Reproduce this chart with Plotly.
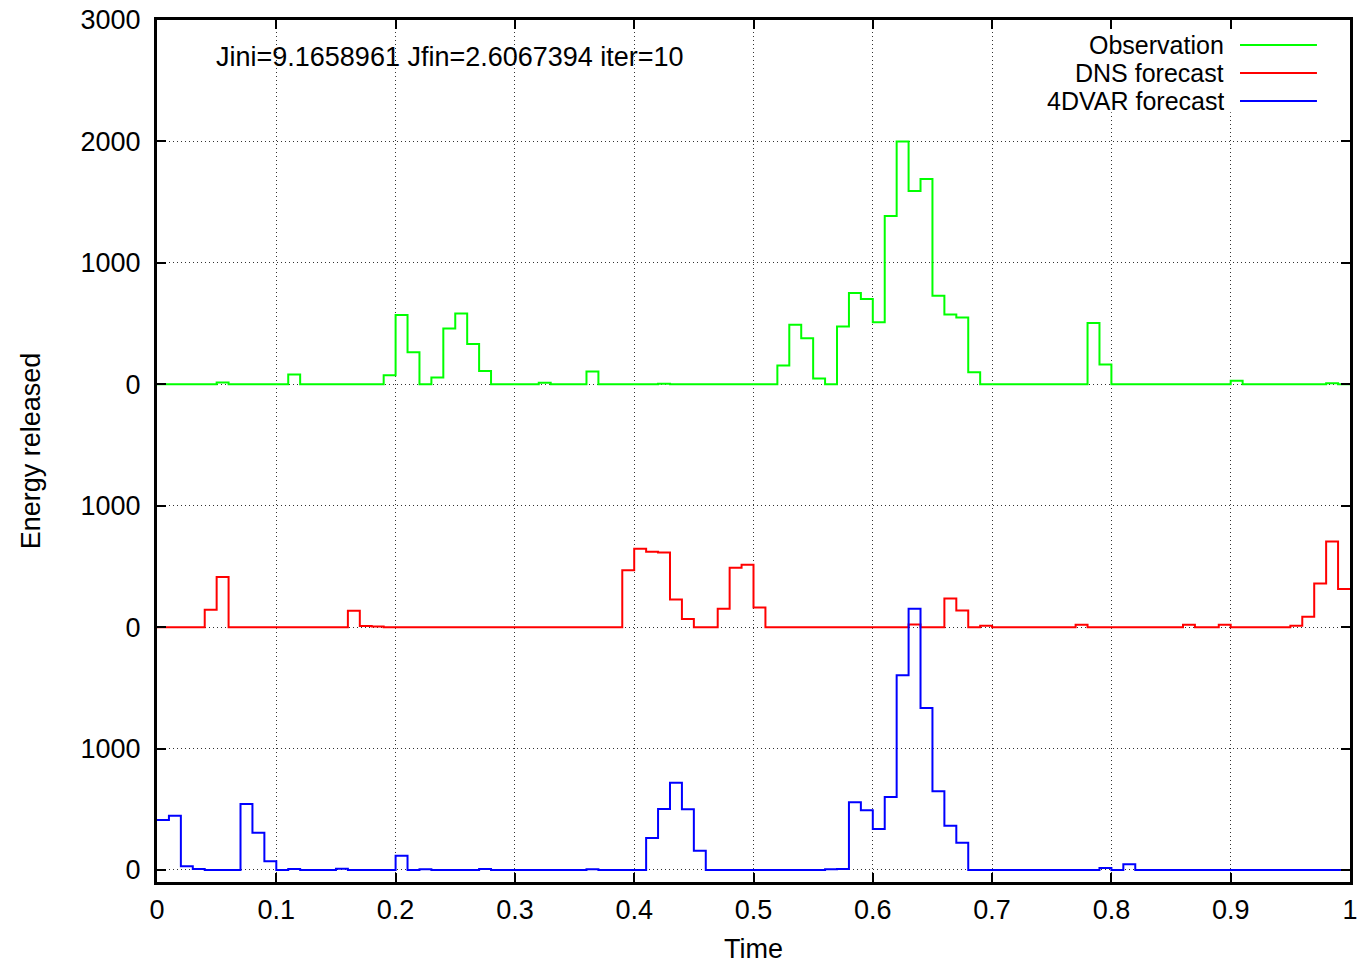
import plotly.graph_objects as go

# Energy released per time bin (bin width 0.01, bins start at 0.00 ... 0.99)
BIN_WIDTH = 0.01

observation = [
    0, 0, 0, 0, 0, 15, 0, 0, 0, 0,
    0, 80, 0, 0, 0, 0, 0, 0, 0, 75,
    571, 264, 0, 55, 459, 582, 332, 110, 0, 0,
    0, 0, 12, 0, 0, 0, 105, 0, 0, 0,
    0, 0, 5, 0, 0, 0, 0, 0, 0, 0,
    0, 0, 155, 490, 379, 47, 0, 475, 752, 703,
    511, 1386, 2000, 1592, 1691, 730, 574, 549, 99, 0,
    0, 0, 0, 0, 0, 0, 0, 0, 505, 162,
    0, 0, 0, 0, 0, 0, 0, 0, 0, 0,
    30, 0, 0, 0, 0, 0, 0, 0, 8, 0,
]

dns_forecast = [
    0, 0, 0, 0, 143, 412, 0, 0, 0, 0,
    0, 0, 0, 0, 0, 0, 134, 10, 6, 0,
    0, 0, 0, 0, 0, 0, 0, 0, 0, 0,
    0, 0, 0, 0, 0, 0, 0, 0, 0, 469,
    645, 620, 615, 228, 66, 0, 0, 151, 489, 513,
    162, 0, 0, 0, 0, 0, 0, 0, 0, 0,
    0, 0, 0, 22, 0, 0, 236, 137, 0, 11,
    0, 0, 0, 0, 0, 0, 0, 19, 0, 0,
    0, 0, 0, 0, 0, 0, 19, 0, 0, 19,
    0, 0, 0, 0, 0, 11, 85, 360, 705, 315,
]

fourdvar_forecast = [
    411, 447, 30, 8, 0, 0, 0, 543, 307, 71,
    0, 8, 0, 0, 0, 10, 0, 0, 0, 0,
    118, 0, 5, 0, 0, 0, 0, 8, 0, 0,
    0, 0, 0, 0, 0, 0, 5, 0, 0, 0,
    0, 264, 502, 719, 500, 159, 0, 0, 0, 0,
    0, 0, 0, 0, 0, 0, 5, 8, 557, 491,
    338, 601, 1603, 2152, 1334, 648, 365, 225, 0, 0,
    0, 0, 0, 0, 0, 0, 0, 0, 0, 16,
    0, 47, 0, 0, 0, 0, 0, 0, 0, 0,
    0, 0, 0, 0, 0, 0, 0, 0, 0, 0,
]

series_names = ["Observation", "DNS forecast", "4DVAR forecast"]
series_colors = ["#00ff00", "#ff0000", "#0000ff"]
series_offsets = [4000, 2000, 0]

x_tick_vals = [0, 0.1, 0.2, 0.3, 0.4, 0.5, 0.6, 0.7, 0.8, 0.9, 1]
x_tick_text = ["0", "0.1", "0.2", "0.3", "0.4", "0.5", "0.6", "0.7", "0.8", "0.9", "1"]
y_tick_vals = [0, 1000, 2000, 3000, 4000, 5000, 6000, 7000]
y_tick_text = ["0", "1000", "0", "1000", "0", "1000", "2000", "3000"]

title_text = "Jini=9.1658961 Jfin=2.6067394 iter=10"

FONT = "Liberation Sans, Arial, Helvetica, sans-serif"
FS = 27
KEY_FS = 25

fig = go.Figure()

for name, values, color, offset in zip(
    series_names, [observation, dns_forecast, fourdvar_forecast], series_colors, series_offsets
):
    n = len(values)
    edges = [i * BIN_WIDTH for i in range(n + 1)]
    ys = [v + offset for v in values] + [values[-1] + offset]
    fig.add_trace(
        go.Scatter(
            x=edges,
            y=ys,
            mode="lines",
            line=dict(color=color, width=2, shape="hv"),
            name=name,
            showlegend=False,
            hoverinfo="skip",
        )
    )

axis_common = dict(
    automargin=False,
    showline=True,
    linecolor="black",
    linewidth=3,
    mirror="ticks",
    ticks="inside",
    ticklen=9,
    tickwidth=2,
    tickcolor="black",
    showgrid=True,
    gridcolor="#333333",
    gridwidth=1,
    griddash="1px,3px",
    zeroline=False,
    tickfont=dict(family=FONT, size=FS, color="black"),
)

fig.update_xaxes(
    range=[0, 1],
    tickmode="array",
    tickvals=x_tick_vals,
    ticktext=x_tick_text,
    title=dict(text="Time", font=dict(family=FONT, size=FS, color="black"), standoff=17),
    ticklabelstandoff=2,
    **axis_common,
)
fig.update_yaxes(
    range=[-99, 7000],
    tickmode="array",
    tickvals=y_tick_vals,
    ticktext=y_tick_text,
    title=dict(text="Energy released", font=dict(family=FONT, size=FS, color="black"), standoff=33),
    ticklabelstandoff=8,
    **axis_common,
)

# Key: opaque box with right-aligned labels and line samples to their right
shapes = [
    dict(
        type="rect", xref="paper", yref="paper",
        x0=0.725, x1=0.983, y0=0.893, y1=0.987,
        fillcolor="white", line=dict(width=0), layer="above",
    )
]
annotations = [
    dict(
        text=title_text, xref="paper", yref="paper", x=0.0478, y=0.957,
        xanchor="left", yanchor="middle", showarrow=False,
        font=dict(family=FONT, size=FS, color="black"),
    )
]
key_rows = [0.9710, 0.9385, 0.9060]
for name, color, yk in zip(series_names, series_colors, key_rows):
    annotations.append(
        dict(
            text=name, xref="paper", yref="paper", x=0.8952, y=yk,
            xanchor="right", yanchor="middle", valign="middle",
            height=26, borderpad=0, showarrow=False,
            font=dict(family=FONT, size=KEY_FS, color="black"),
        )
    )
    shapes.append(
        dict(
            type="line", xref="paper", yref="paper",
            x0=0.9078, x1=0.9723, y0=yk, y1=yk,
            line=dict(color=color, width=2), layer="above",
        )
    )

fig.update_layout(
    width=1360,
    height=964,
    margin=dict(l=157, r=10, t=20, b=82, autoexpand=False),
    plot_bgcolor="white",
    paper_bgcolor="white",
    font=dict(family=FONT, size=FS, color="black"),
    shapes=shapes,
    annotations=annotations,
    showlegend=False,
)

fig.write_html("out.html")
